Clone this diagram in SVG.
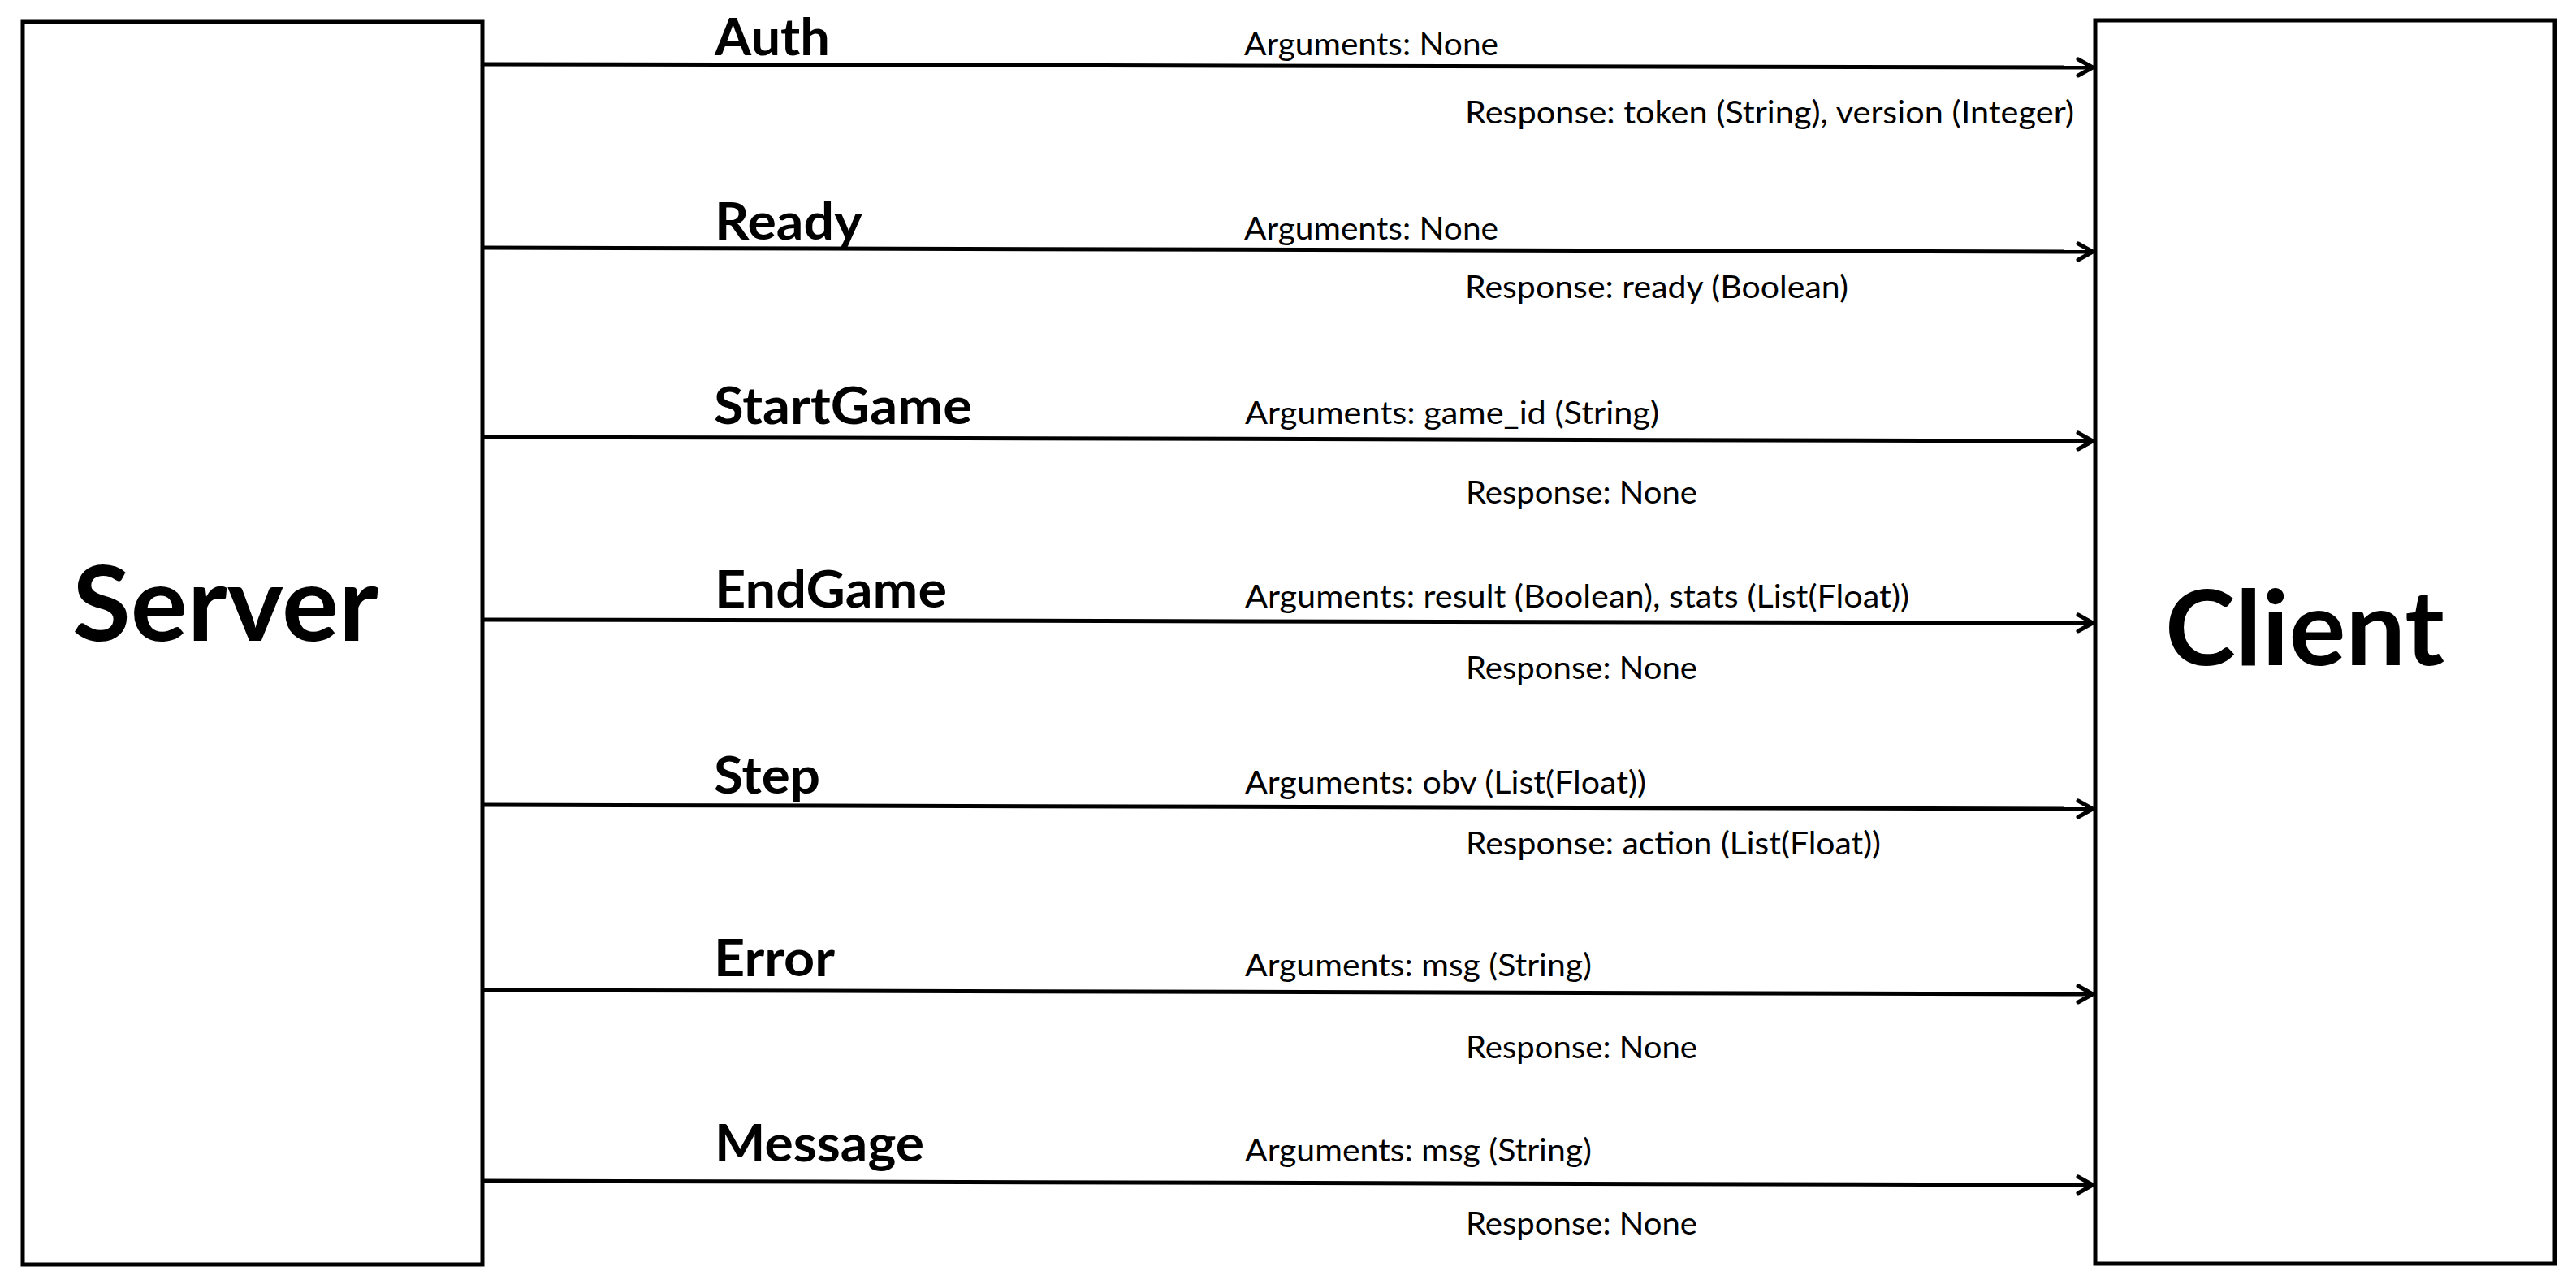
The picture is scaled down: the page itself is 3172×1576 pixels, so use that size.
<svg xmlns="http://www.w3.org/2000/svg" width="3172" height="1576" viewBox="0 0 3172 1576">
<style>
.box{fill:#fff;stroke:#000;stroke-width:5}
.big{font-family:Lato,"Open Sans","Liberation Sans",sans-serif;font-weight:bold;font-size:128px;fill:#000}
.lbl{font-family:Lato,"Open Sans","Liberation Sans",sans-serif;font-weight:bold;font-size:63px;fill:#000}
.txt{font-family:Lato,"Open Sans","Liberation Sans",sans-serif;font-size:39px;fill:#000}
.conn line{stroke:#000;stroke-width:5;marker-end:url(#arr)}
</style>
<defs>
<marker id="arr" markerUnits="userSpaceOnUse" markerWidth="40" markerHeight="40" viewBox="-30 -20 40 40" refX="0" refY="0" orient="auto" overflow="visible">
<path d="M-18,-10 L0,0 L-18,10" fill="none" stroke="#000" stroke-width="5" stroke-linecap="round" stroke-linejoin="miter"/>
</marker>
</defs>
<rect width="3172" height="1576" fill="#fff"/>
<g id="server">
<rect class="box" x="28" y="27" width="566" height="1530"/>
<text class="big" x="89" y="789" textLength="377" lengthAdjust="spacingAndGlyphs">Server</text>
</g>
<g id="client">
<rect class="box" x="2580" y="25" width="566" height="1531"/>
<text class="big" x="2666" y="819" textLength="344" lengthAdjust="spacingAndGlyphs">Client</text>
</g>
<g id="connectors" class="conn">
<line x1="594" y1="79" x2="2577" y2="83"/>
<line x1="594" y1="305" x2="2577" y2="310"/>
<line x1="594" y1="538" x2="2577" y2="543"/>
<line x1="594" y1="763" x2="2577" y2="767"/>
<line x1="594" y1="991" x2="2577" y2="996"/>
<line x1="594" y1="1219" x2="2577" y2="1224"/>
<line x1="594" y1="1454" x2="2577" y2="1459"/>
</g>
<g id="auth">
<text class="lbl" x="880" y="68" textLength="142" lengthAdjust="spacingAndGlyphs">Auth</text>
<text class="txt" x="1532" y="68" textLength="313" lengthAdjust="spacingAndGlyphs">Arguments: None</text>
<text class="txt" x="1804" y="152" textLength="750" lengthAdjust="spacingAndGlyphs">Response: token (String), version (Integer)</text>
</g>
<g id="ready">
<text class="lbl" x="880" y="295" textLength="182" lengthAdjust="spacingAndGlyphs">Ready</text>
<text class="txt" x="1532" y="295" textLength="313" lengthAdjust="spacingAndGlyphs">Arguments: None</text>
<text class="txt" x="1804" y="367" textLength="472" lengthAdjust="spacingAndGlyphs">Response: ready (Boolean)</text>
</g>
<g id="startgame">
<text class="lbl" x="879" y="522" textLength="318" lengthAdjust="spacingAndGlyphs">StartGame</text>
<text class="txt" x="1533" y="522" textLength="510" lengthAdjust="spacingAndGlyphs">Arguments: game_id (String)</text>
<text class="txt" x="1805" y="620" textLength="285" lengthAdjust="spacingAndGlyphs">Response: None</text>
</g>
<g id="endgame">
<text class="lbl" x="880" y="748" textLength="286" lengthAdjust="spacingAndGlyphs">EndGame</text>
<text class="txt" x="1533" y="748" textLength="818" lengthAdjust="spacingAndGlyphs">Arguments: result (Boolean), stats (List(Float))</text>
<text class="txt" x="1805" y="836" textLength="285" lengthAdjust="spacingAndGlyphs">Response: None</text>
</g>
<g id="step">
<text class="lbl" x="879" y="977" textLength="131" lengthAdjust="spacingAndGlyphs">Step</text>
<text class="txt" x="1533" y="977" textLength="494" lengthAdjust="spacingAndGlyphs">Arguments: obv (List(Float))</text>
<text class="txt" x="1805" y="1052" textLength="511" lengthAdjust="spacingAndGlyphs">Response: action (List(Float))</text>
</g>
<g id="error">
<text class="lbl" x="879" y="1202" textLength="149" lengthAdjust="spacingAndGlyphs">Error</text>
<text class="txt" x="1533" y="1202" textLength="427" lengthAdjust="spacingAndGlyphs">Arguments: msg (String)</text>
<text class="txt" x="1805" y="1303" textLength="285" lengthAdjust="spacingAndGlyphs">Response: None</text>
</g>
<g id="message">
<text class="lbl" x="880" y="1430" textLength="258" lengthAdjust="spacingAndGlyphs">Message</text>
<text class="txt" x="1533" y="1430" textLength="427" lengthAdjust="spacingAndGlyphs">Arguments: msg (String)</text>
<text class="txt" x="1805" y="1520" textLength="285" lengthAdjust="spacingAndGlyphs">Response: None</text>
</g>
</svg>
